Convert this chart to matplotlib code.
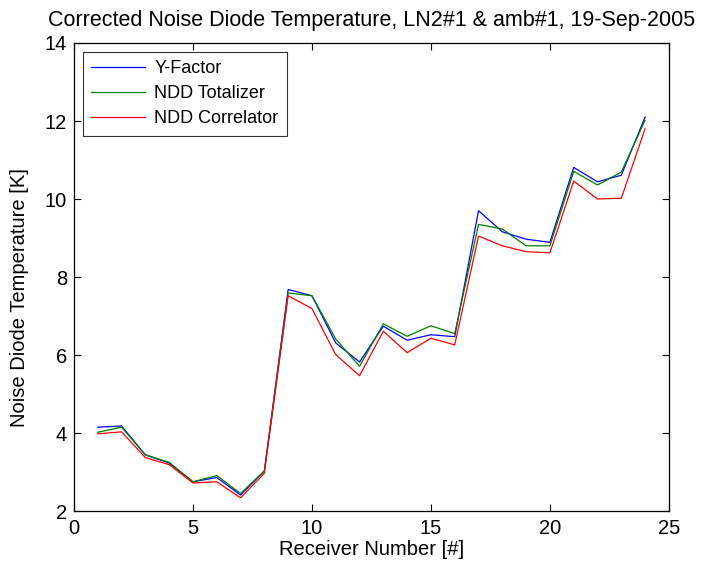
import numpy as np
import matplotlib
matplotlib.use('Agg')
import matplotlib.pyplot as plt

plt.rcParams['font.family'] = ['Liberation Sans', 'DejaVu Sans']

# receiver numbers and corrected diode temperatures [K]
receiver = list(range(1, 25))
y_factor = [4.15, 4.18, 3.44, 3.23, 2.75, 2.86, 2.41, 3.03, 7.68, 7.52, 6.31, 5.82,
            6.74, 6.38, 6.52, 6.47, 9.70, 9.16, 8.97, 8.89, 10.81, 10.44, 10.61, 12.10]
ndd_totalizer = [4.02, 4.15, 3.44, 3.25, 2.75, 2.91, 2.45, 3.03, 7.59, 7.52, 6.41, 5.71,
                 6.80, 6.48, 6.75, 6.55, 9.35, 9.23, 8.80, 8.80, 10.71, 10.36, 10.69, 12.02]
ndd_correlator = [3.98, 4.03, 3.37, 3.19, 2.72, 2.75, 2.34, 2.97, 7.52, 7.19, 6.01, 5.47,
                  6.61, 6.06, 6.43, 6.26, 9.05, 8.80, 8.65, 8.62, 10.46, 10.00, 10.02, 11.80]

fig = plt.figure(figsize=(7.15, 5.71), dpi=100)
ax = fig.add_axes([0.1035, 0.105, 0.832, 0.8197])

ax.plot(receiver, y_factor, color='blue', lw=0.9, label='Y-Factor')
ax.plot(receiver, ndd_totalizer, color='green', lw=0.9, label='NDD Totalizer')
ax.plot(receiver, ndd_correlator, color='red', lw=0.9, label='NDD Correlator')

ax.set_xlim(0, 25)
ax.set_ylim(2, 14)
ax.set_xticks(range(0, 26, 5))
ax.set_yticks(range(2, 15, 2))
ax.tick_params(direction='in', top=True, right=True, length=5, width=0.8,
               labelsize=14.5)
ax.tick_params(axis='x', pad=6)
ax.tick_params(axis='y', pad=5)
for sp in ax.spines.values():
    sp.set_linewidth(0.9)

ax.set_title('Corrected Noise Diode Temperature, LN2#1 & amb#1, 19-Sep-2005',
             fontsize=15.5, pad=12)
ax.set_xlabel('Receiver Number [#]', fontsize=14.5, labelpad=1)
ax.set_ylabel('Noise Diode Temperature [K]', fontsize=14.5)
ax.yaxis.set_label_coords(-0.076, 0.457)

leg = ax.legend(loc='upper left', fontsize=13, frameon=True, fancybox=False,
                edgecolor='black', handlelength=3.0, handletextpad=0.5,
                borderaxespad=0.5, borderpad=0.45, labelspacing=0.45)
leg.get_frame().set_linewidth(0.8)

fig.savefig('out.png', dpi=100)
